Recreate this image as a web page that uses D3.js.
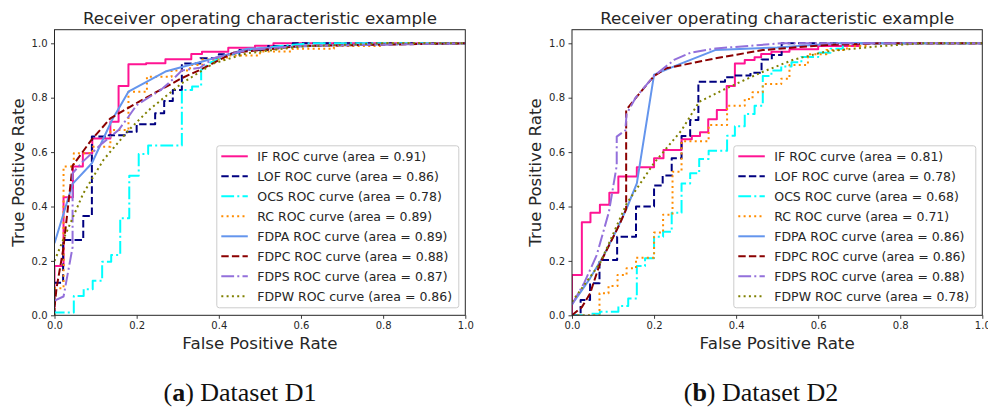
<!DOCTYPE html>
<html>
<head>
<meta charset="utf-8">
<script src="https://cdn.jsdelivr.net/npm/d3@7"></script>
<style>
  html, body { margin: 0; padding: 0; background: #fff; }
  svg { display: block; }
</style>
</head>
<body>
<svg id="chart" width="988" height="411"></svg>
<script>
// ---- Methods, colours and line styles ----
const methods = ["IF", "LOF", "OCS", "RC", "FDPA", "FDPC", "FDPS", "FDPW"];
const colors  = ["#ff1493", "#000080", "#00ffff", "#ff8c00", "#6495ed", "#8b0000", "#9370db", "#808000"];
const dashes  = [null, "7.4,3.2", "12.8,3.2,2,3.2", "2,3.3", null, "7.4,3.2", "12.8,3.2,2,3.2", "2,3.3"];

// ---- AUC values shown in the legends ----
const areasD1 = [0.91, 0.86, 0.78, 0.89, 0.89, 0.88, 0.87, 0.86];
const areasD2 = [0.81, 0.78, 0.68, 0.71, 0.86, 0.86, 0.88, 0.78];

// ---- Axis ticks ----
const xTicks = [0, 0.2, 0.4, 0.6, 0.8, 1.0];
const yTicks = [0, 0.2, 0.4, 0.6, 0.8, 1.0];

// ---- ROC points [FPR, TPR], dataset D1 ----
const rocD1_IF = [[0,0],[0,0.181],[0.022,0.181],[0.022,0.434],[0.045,0.434],[0.045,0.547],[0.069,0.547],[0.069,0.596],[0.092,0.596],[0.092,0.65],[0.136,0.65],[0.136,0.712],[0.156,0.712],[0.156,0.843],[0.18,0.843],[0.18,0.923],[0.223,0.923],[0.223,0.927],[0.27,0.927],[0.27,0.941],[0.333,0.941],[0.333,0.961],[0.359,0.961],[0.359,0.969],[0.423,0.969],[0.423,0.984],[0.488,0.984],[0.488,0.991],[0.533,0.991],[0.533,1],[1,1]];
const rocD1_LOF = [[0,0],[0,0.12],[0.021,0.12],[0.021,0.277],[0.07,0.277],[0.07,0.365],[0.091,0.365],[0.091,0.657],[0.132,0.657],[0.132,0.662],[0.176,0.662],[0.176,0.675],[0.2,0.675],[0.2,0.702],[0.245,0.702],[0.245,0.743],[0.267,0.743],[0.267,0.788],[0.288,0.788],[0.288,0.828],[0.31,0.828],[0.31,0.926],[0.355,0.926],[0.355,0.945],[0.4,0.945],[0.4,0.96],[0.45,0.96],[0.45,0.975],[0.52,0.975],[0.52,0.99],[0.58,0.99],[0.58,1],[1,1]];
const rocD1_OCS = [[0,0],[0,0.01],[0.047,0.01],[0.047,0.071],[0.071,0.071],[0.071,0.096],[0.093,0.096],[0.093,0.127],[0.116,0.127],[0.116,0.197],[0.138,0.197],[0.138,0.222],[0.16,0.222],[0.16,0.357],[0.182,0.357],[0.182,0.513],[0.205,0.513],[0.205,0.593],[0.228,0.593],[0.228,0.624],[0.31,0.624],[0.31,0.828],[0.335,0.828],[0.335,0.841],[0.357,0.841],[0.357,0.902],[0.38,0.93],[0.42,0.955],[0.47,0.975],[0.55,0.99],[0.62,1],[1,1]];
const rocD1_RC = [[0,0],[0,0.099],[0.022,0.099],[0.022,0.547],[0.047,0.547],[0.047,0.596],[0.093,0.596],[0.093,0.62],[0.136,0.62],[0.136,0.681],[0.18,0.681],[0.18,0.822],[0.225,0.822],[0.225,0.877],[0.285,0.877],[0.285,0.9],[0.33,0.9],[0.33,0.92],[0.36,0.92],[0.36,0.94],[0.42,0.94],[0.42,0.955],[0.5,0.955],[0.5,0.97],[0.58,0.97],[0.58,0.98],[0.68,0.98],[0.68,0.99],[0.8,0.99],[0.8,1],[1,1]];
const rocD1_FDPA = [[0,0.265],[0.044,0.483],[0.091,0.559],[0.14,0.718],[0.18,0.822],[0.27,0.896],[0.36,0.933],[0.43,0.963],[0.47,0.98],[0.68,0.994],[1,1]];
const rocD1_FDPC = [[0,0.03],[0.005,0.1],[0.021,0.24],[0.033,0.4],[0.044,0.55],[0.09,0.645],[0.136,0.724],[0.205,0.785],[0.31,0.872],[0.354,0.902],[0.435,0.965],[0.6,0.99],[1,1]];
const rocD1_FDPS = [[0,0.054],[0.022,0.069],[0.044,0.25],[0.044,0.522],[0.069,0.565],[0.116,0.632],[0.156,0.681],[0.18,0.73],[0.2,0.773],[0.26,0.83],[0.29,0.87],[0.31,0.9],[0.354,0.91],[0.387,0.945],[0.468,0.975],[0.6,0.99],[1,1]];
const rocD1_FDPW = [[0,0.2],[0.021,0.277],[0.07,0.448],[0.119,0.571],[0.18,0.68],[0.23,0.755],[0.31,0.853],[0.387,0.926],[0.468,0.963],[0.6,0.988],[0.8,1],[1,1]];

// ---- ROC points [FPR, TPR], dataset D2 ----
const rocD2_IF = [[0,0],[0,0.148],[0.024,0.148],[0.024,0.342],[0.045,0.342],[0.045,0.377],[0.068,0.377],[0.068,0.406],[0.091,0.406],[0.091,0.451],[0.113,0.451],[0.113,0.51],[0.158,0.51],[0.158,0.544],[0.2,0.544],[0.2,0.577],[0.223,0.577],[0.223,0.608],[0.267,0.608],[0.267,0.647],[0.292,0.647],[0.292,0.659],[0.312,0.659],[0.312,0.673],[0.332,0.673],[0.332,0.721],[0.353,0.721],[0.353,0.755],[0.377,0.755],[0.377,0.843],[0.397,0.843],[0.397,0.926],[0.421,0.926],[0.421,0.939],[0.445,0.939],[0.445,0.949],[0.461,0.949],[0.461,0.961],[0.486,0.961],[0.486,0.969],[0.53,0.969],[0.53,0.978],[0.6,0.978],[0.6,0.99],[0.7,0.99],[0.7,1],[1,1]];
const rocD2_LOF = [[0,0],[0.021,0],[0.021,0.056],[0.044,0.056],[0.044,0.118],[0.067,0.118],[0.067,0.203],[0.11,0.203],[0.11,0.289],[0.156,0.289],[0.156,0.4],[0.2,0.4],[0.2,0.477],[0.221,0.477],[0.221,0.514],[0.243,0.514],[0.243,0.577],[0.267,0.577],[0.267,0.659],[0.288,0.659],[0.288,0.718],[0.308,0.718],[0.308,0.859],[0.373,0.859],[0.373,0.875],[0.397,0.875],[0.397,0.882],[0.435,0.882],[0.435,0.892],[0.462,0.892],[0.462,0.94],[0.487,0.94],[0.487,0.957],[0.511,0.957],[0.511,1],[1,1]];
const rocD2_OCS = [[0,0],[0.045,0],[0.045,0.006],[0.068,0.006],[0.068,0.013],[0.113,0.013],[0.113,0.034],[0.137,0.034],[0.137,0.062],[0.158,0.062],[0.158,0.181],[0.178,0.181],[0.178,0.21],[0.2,0.21],[0.2,0.289],[0.222,0.289],[0.222,0.307],[0.243,0.307],[0.243,0.377],[0.267,0.377],[0.267,0.485],[0.288,0.485],[0.288,0.522],[0.31,0.522],[0.31,0.575],[0.333,0.575],[0.333,0.605],[0.378,0.605],[0.378,0.66],[0.397,0.66],[0.397,0.695],[0.421,0.695],[0.421,0.74],[0.445,0.74],[0.445,0.77],[0.465,0.77],[0.465,0.88],[0.486,0.88],[0.486,0.9],[0.51,0.9],[0.51,0.915],[0.535,0.915],[0.535,0.93],[0.559,0.93],[0.559,0.95],[0.6,0.95],[0.6,0.965],[0.63,0.965],[0.63,0.98],[0.66,0.98],[0.66,1],[1,1]];
const rocD2_RC = [[0,0],[0.067,0],[0.067,0.081],[0.089,0.081],[0.089,0.108],[0.111,0.108],[0.111,0.148],[0.133,0.148],[0.133,0.173],[0.156,0.173],[0.156,0.212],[0.2,0.212],[0.2,0.304],[0.222,0.304],[0.222,0.37],[0.245,0.37],[0.245,0.528],[0.267,0.528],[0.267,0.64],[0.333,0.64],[0.333,0.7],[0.378,0.7],[0.378,0.77],[0.421,0.77],[0.421,0.795],[0.44,0.795],[0.44,0.82],[0.465,0.82],[0.465,0.85],[0.51,0.85],[0.51,0.87],[0.53,0.87],[0.53,0.92],[0.575,0.92],[0.575,0.96],[0.62,0.96],[0.62,0.975],[0.67,0.975],[0.67,0.99],[0.72,0.99],[0.72,1],[1,1]];
const rocD2_FDPA = [[0,0.04],[0.044,0.136],[0.076,0.216],[0.109,0.314],[0.135,0.4],[0.158,0.485],[0.2,0.885],[0.267,0.926],[0.349,0.975],[0.5,0.985],[0.65,1],[1,1]];
const rocD2_FDPC = [[0,0],[0.024,0.03],[0.044,0.08],[0.068,0.19],[0.093,0.265],[0.117,0.338],[0.132,0.39],[0.132,0.755],[0.158,0.804],[0.2,0.88],[0.23,0.908],[0.35,0.945],[0.465,0.975],[0.62,0.994],[0.75,1],[1,1]];
const rocD2_FDPS = [[0,0.04],[0.03,0.12],[0.06,0.22],[0.09,0.38],[0.109,0.55],[0.109,0.657],[0.13,0.68],[0.133,0.74],[0.155,0.8],[0.2,0.88],[0.25,0.94],[0.29,0.966],[0.35,0.981],[0.46,0.994],[0.51,1],[1,1]];
const rocD2_FDPW = [[0,0.05],[0.068,0.19],[0.133,0.41],[0.2,0.56],[0.267,0.68],[0.31,0.785],[0.377,0.835],[0.46,0.892],[0.54,0.94],[0.62,0.97],[0.74,0.988],[0.85,1],[1,1]];

const curvesD1 = [rocD1_IF, rocD1_LOF, rocD1_OCS, rocD1_RC, rocD1_FDPA, rocD1_FDPC, rocD1_FDPS, rocD1_FDPW];
const curvesD2 = [rocD2_IF, rocD2_LOF, rocD2_OCS, rocD2_RC, rocD2_FDPA, rocD2_FDPC, rocD2_FDPS, rocD2_FDPW];

const titleText = "Receiver operating characteristic example";
const xLabel = "False Positive Rate";
const yLabel = "True Positive Rate";

// ---- Layout ----
const svg = d3.select("#chart");
svg.append("rect").attr("width", 988).attr("height", 411).attr("fill", "#fff");

const panels = [
  { id: "p1", left: 54.5, right: 465.3, capX: 240, curves: curvesD1, areas: areasD1, tag: "a", caption: "Dataset D1" },
  { id: "p2", left: 572,  right: 982.3, capX: 761, curves: curvesD2, areas: areasD2, tag: "b", caption: "Dataset D2" }
];
const plotTop = 29.7, plotBottom = 315.3;
const font = "'DejaVu Sans', sans-serif";
const ink = "#262626";

panels.forEach((p) => {
  const x = d3.scaleLinear().domain([0, 1]).range([p.left, p.right]);
  const y = d3.scaleLinear().domain([0, 1.05]).range([plotBottom, plotTop]);
  const g = svg.append("g");

  // clip region = axes box
  g.append("clipPath").attr("id", "clip-" + p.id)
    .append("rect").attr("x", p.left).attr("y", plotTop)
    .attr("width", p.right - p.left).attr("height", plotBottom - plotTop);

  // curves
  const line = d3.line().x(d => x(d[0])).y(d => y(d[1]));
  const curveG = g.append("g").attr("clip-path", `url(#clip-${p.id})`);
  p.curves.forEach((c, i) => {
    curveG.append("path")
      .attr("d", line(c))
      .attr("fill", "none")
      .attr("stroke", colors[i])
      .attr("stroke-width", 2)
      .attr("stroke-linejoin", "round")
      .attr("stroke-dasharray", dashes[i])
      .attr("stroke-linecap", "butt");
  });

  // axes
  const xAxis = d3.axisBottom(x).tickValues(xTicks).tickFormat(d3.format(".1f"))
    .tickSize(3.5).tickPadding(3.5);
  const yAxis = d3.axisLeft(y).tickValues(yTicks).tickFormat(d3.format(".1f"))
    .tickSize(3.5).tickPadding(3.5);
  const gx = g.append("g").attr("transform", `translate(0,${plotBottom})`).call(xAxis);
  const gy = g.append("g").attr("transform", `translate(${p.left},0)`).call(yAxis);
  [gx, gy].forEach(ax => {
    ax.select(".domain").remove();
    ax.selectAll(".tick line").attr("stroke", ink).attr("stroke-width", 0.9);
    ax.selectAll(".tick text").attr("fill", ink).style("font-family", font).style("font-size", "10px");
  });

  // frame
  g.append("rect")
    .attr("x", p.left).attr("y", plotTop)
    .attr("width", p.right - p.left).attr("height", plotBottom - plotTop)
    .attr("fill", "none").attr("stroke", ink).attr("stroke-width", 1);

  const cx = (p.left + p.right) / 2;
  g.append("text").attr("x", cx).attr("y", 24).attr("text-anchor", "middle")
    .style("font-family", font).style("font-size", "16.7px").attr("fill", ink).text(titleText);
  g.append("text").attr("x", cx).attr("y", 349).attr("text-anchor", "middle")
    .style("font-family", font).style("font-size", "16.7px").attr("fill", ink).text(xLabel);
  g.append("text")
    .attr("transform", `translate(${p.left - 31},${(plotTop + plotBottom) / 2}) rotate(-90)`)
    .attr("text-anchor", "middle")
    .style("font-family", font).style("font-size", "16.7px").attr("fill", ink).text(yLabel);

  // legend (lower right)
  const lw = 242, lh = 162;
  const lx = p.right - 6.5 - lw, ly = plotBottom - 7.5 - lh;
  const lg = g.append("g");
  lg.append("rect").attr("x", lx).attr("y", ly).attr("width", lw).attr("height", lh)
    .attr("rx", 2.5).attr("fill", "#fff").attr("fill-opacity", 0.8)
    .attr("stroke", "#cccccc").attr("stroke-width", 1);
  methods.forEach((m, i) => {
    const ry = ly + 10.5 + i * 20;
    lg.append("line").attr("x1", lx + 4.5).attr("x2", lx + 31)
      .attr("y1", ry).attr("y2", ry)
      .attr("stroke", colors[i]).attr("stroke-width", 2)
      .attr("stroke-dasharray", dashes[i]);
    lg.append("text").attr("x", lx + 40.5).attr("y", ry + 4.5)
      .style("font-family", font).style("font-size", "12.5px").attr("fill", ink)
      .text(`${m} ROC curve (area = ${p.areas[i].toFixed(2)})`);
  });

  // sub-caption
  const cap = svg.append("text").attr("x", p.capX).attr("y", 401).attr("text-anchor", "middle")
    .style("font-family", "'Liberation Serif', serif").style("font-size", "26px").attr("fill", "#111");
  cap.append("tspan").text("(");
  cap.append("tspan").attr("font-weight", "bold").text(p.tag);
  cap.append("tspan").text(") " + p.caption);
});
</script>
</body>
</html>
